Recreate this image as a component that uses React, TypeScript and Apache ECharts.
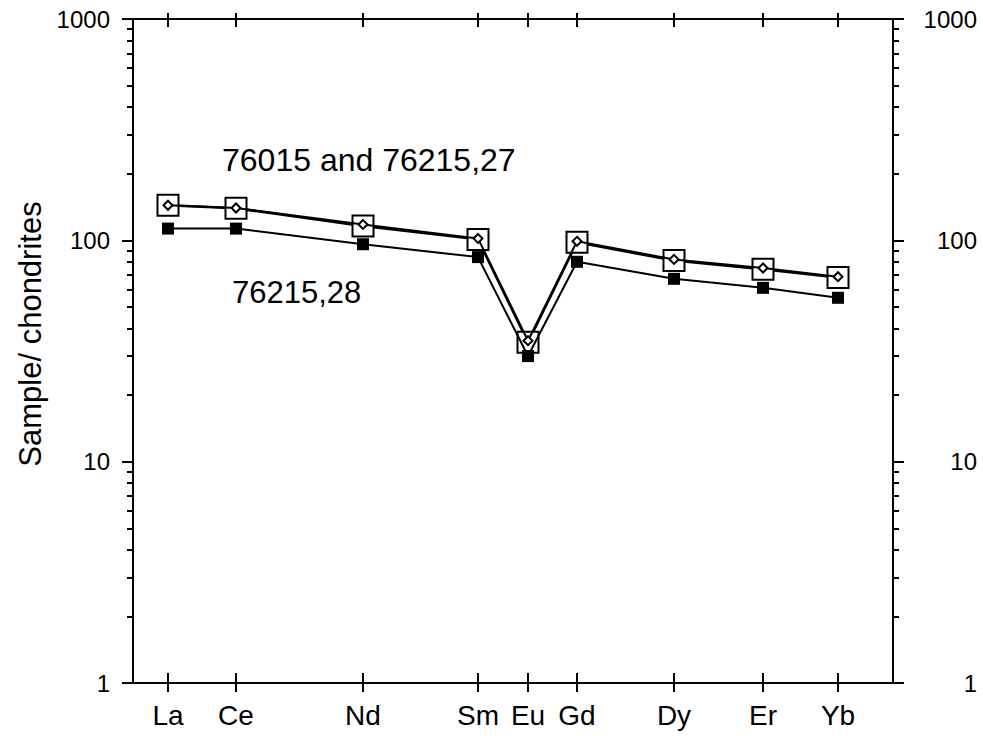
import React, { useEffect, useRef } from "react";
import * as echarts from "echarts";

const elements = ["La", "Ce", "Nd", "Sm", "Eu", "Gd", "Dy", "Er", "Yb"];
// element positions along the horizontal axis (axis units, 0..760)
const elementPositions = [35, 103, 230, 345, 395, 444, 541, 630, 705];
const xMax = 760;

const sample76015 = [144, 139.5, 116, 101, 34.6, 98, 81, 74, 68];
const sample76215_27 = [144, 140, 118, 102, 35.2, 99, 82, 75, 68.5];
const sample76215_28 = [113, 113, 96, 84, 30, 80, 67, 61, 55];

const yMinorTicks: number[] = [];
for (let d = 0; d < 3; d++) {
  for (let k = 2; k <= 9; k++) yMinorTicks.push(d + Math.log10(k));
}

const FONT = "'Liberation Sans', Arial, Helvetica, sans-serif";

export default function App() {
  const ref = useRef<HTMLDivElement>(null);
  useEffect(() => {
    if (!ref.current) return;
    const chart = echarts.init(ref.current, undefined, { renderer: "svg" });
    const black = "#000";
    const lineStyle = { color: black, width: 2 };
    const mk = (vals: number[]) => vals.map((v, i) => [elementPositions[i], v]);

    const xBase = { type: "value" as const, min: 0, max: xMax, splitLine: { show: false } };
    const yLog = {
      type: "log" as const, logBase: 10, min: 1, max: 1000,
      splitLine: { show: false }, minorTick: { show: false },
    };
    const yMinor = {
      type: "value" as const, min: 0, max: 3,
      splitLine: { show: false },
      axisLine: { show: false, onZero: false },
      axisLabel: { show: false },
      axisTick: { show: true, length: 6, customValues: yMinorTicks, lineStyle },
    };

    chart.setOption({
      animation: false,
      backgroundColor: "#fff",
      grid: { left: 133, right: 90, top: 19, bottom: 56, containLabel: false },
      xAxis: [
        {
          ...xBase, position: "bottom",
          axisLine: { show: true, onZero: false, lineStyle },
          axisTick: { show: true, inside: true, length: 10, customValues: elementPositions, lineStyle },
          axisLabel: {
            customValues: elementPositions,
            formatter: (v: number) => elements[elementPositions.indexOf(Math.round(v))] ?? "",
            fontSize: 28, fontFamily: FONT, color: black, margin: 18,
          },
        },
        {
          ...xBase, position: "bottom",
          axisLine: { show: false, onZero: false },
          axisTick: { show: true, inside: false, length: 9, customValues: elementPositions, lineStyle },
          axisLabel: { show: false },
        },
        {
          ...xBase, position: "top",
          axisLine: { show: true, onZero: false, lineStyle },
          axisTick: { show: true, inside: true, length: 8, customValues: elementPositions, lineStyle },
          axisLabel: { show: false },
        },
        {
          ...xBase, position: "top",
          axisLine: { show: false, onZero: false },
          axisTick: { show: true, inside: false, length: 6, customValues: elementPositions, lineStyle },
          axisLabel: { show: false },
        },
      ],
      yAxis: [
        {
          ...yLog, position: "left",
          axisLine: { show: true, onZero: false, lineStyle },
          axisTick: { show: true, length: 11, lineStyle },
          axisLabel: {
            fontSize: 24, fontFamily: FONT, color: black, margin: 23, padding: [7, 0, 0, 0],
            formatter: (v: number) => String(Math.round(v)),
          },
        },
        { ...yMinor, position: "left" },
        {
          ...yLog, position: "right",
          axisLine: { show: true, onZero: false, lineStyle },
          axisTick: { show: true, length: 11, lineStyle },
          axisLabel: {
            fontSize: 24, fontFamily: FONT, color: black, margin: 84, align: "right", padding: [7, 0, 0, 0],
            formatter: (v: number) => String(Math.round(v)),
          },
        },
        { ...yMinor, position: "right" },
      ],
      graphic: [
        {
          type: "text", x: 30, y: 334, rotation: Math.PI / 2,
          style: {
            text: "Sample/ chondrites", fontSize: 31, fontFamily: FONT, fill: black,
            align: "center", verticalAlign: "middle", textAlign: "center", textVerticalAlign: "middle",
          },
        },
        {
          type: "text", x: 222, y: 160,
          style: {
            text: "76015 and 76215,27", fontSize: 32, fontFamily: FONT, fill: black,
            align: "left", verticalAlign: "middle", textAlign: "left", textVerticalAlign: "middle",
          },
        },
        {
          type: "text", x: 232, y: 292,
          style: {
            text: "76215,28", fontSize: 31, fontFamily: FONT, fill: black,
            align: "left", verticalAlign: "middle", textAlign: "left", textVerticalAlign: "middle",
          },
        },
      ],
      series: [
        {
          name: "76015", type: "line", xAxisIndex: 0, yAxisIndex: 0,
          data: mk(sample76015), symbol: "rect", symbolSize: 21, showSymbol: true,
          itemStyle: { color: "#fff", borderColor: black, borderWidth: 2 },
          lineStyle: { color: black, width: 2.5 }, emphasis: { disabled: true }, silent: true, z: 2,
        },
        {
          name: "76215,27", type: "line", xAxisIndex: 0, yAxisIndex: 0,
          data: mk(sample76215_27), symbol: "diamond", symbolSize: 9, showSymbol: true,
          itemStyle: { color: "#fff", borderColor: black, borderWidth: 2 },
          lineStyle: { color: black, width: 2 }, emphasis: { disabled: true }, silent: true, z: 3,
        },
        {
          name: "76215,28", type: "line", xAxisIndex: 0, yAxisIndex: 0,
          data: mk(sample76215_28), symbol: "rect", symbolSize: 12, showSymbol: true,
          itemStyle: { color: black, borderColor: black, borderWidth: 0 },
          lineStyle: { color: black, width: 2 }, emphasis: { disabled: true }, silent: true, z: 4,
        },
      ],
    });
    return () => chart.dispose();
  }, []);
  return (
    <div ref={ref} style={{ position: "absolute", left: 0, top: 0, width: 983, height: 739, background: "#fff" }} />
  );
}
